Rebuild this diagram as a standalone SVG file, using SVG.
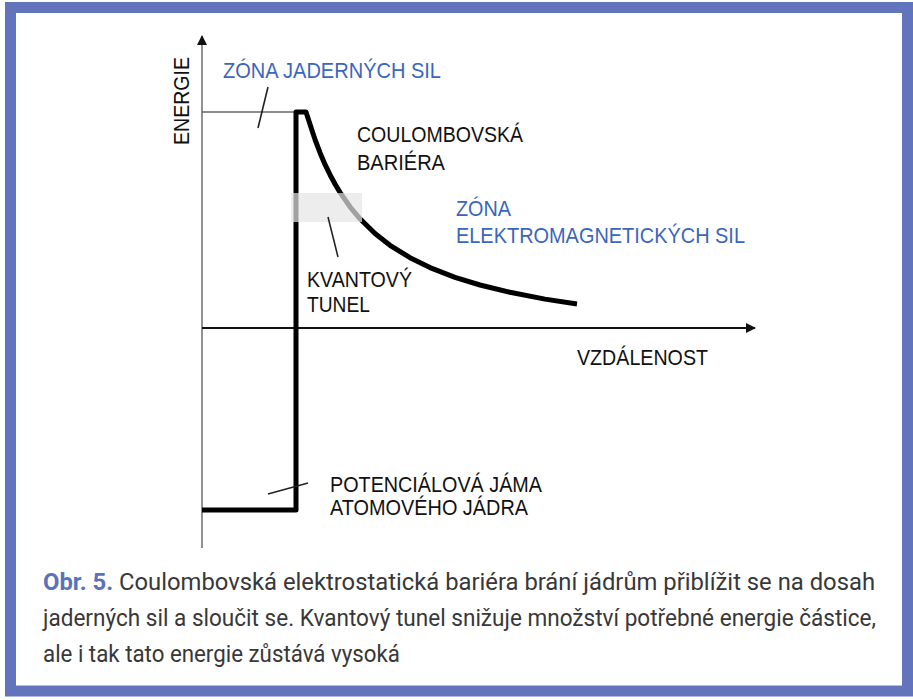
<svg xmlns="http://www.w3.org/2000/svg" width="913" height="700" viewBox="0 0 913 700">
  <defs>
    <style>
      .lbl { font-family: "Liberation Sans", Arial, sans-serif; font-size: 22px; fill: #111; }
      .blue { fill: #3b66bd; }
      .cap { font-family: "Roboto", "Liberation Sans", sans-serif; font-size: 23px; fill: #383838; }
      .capb { font-weight: bold; fill: #5b72b9; }
      .thin { stroke: #222; stroke-width: 1.6; fill: none; }
      .thick { stroke: #000; stroke-width: 5; fill: none; }
    </style>
    <marker id="arr" viewBox="0 0 10 10" refX="9" refY="5" markerWidth="10" markerHeight="10" markerUnits="userSpaceOnUse" orient="auto">
      <path d="M0,0 L10,5 L0,10 z" fill="#111"/>
    </marker>
  </defs>
  <rect x="0" y="0" width="913" height="700" fill="#fff"/>
  <rect x="10.5" y="7.5" width="897" height="683.5" fill="none" stroke="#6174bc" stroke-width="11"/>

  <g id="connectors">
    <line id="y-axis" x1="202" y1="548" x2="202" y2="36" stroke="#777" stroke-width="1.6" marker-end="url(#arr)"/>
    <line id="x-axis" x1="202" y1="328" x2="755" y2="328" stroke="#111" stroke-width="2" marker-end="url(#arr)"/>
    <line id="level" x1="202" y1="112" x2="296" y2="112" stroke="#666" stroke-width="1.5"/>
    <path id="potential" class="thick" stroke-linejoin="round" d="M202,510 L296,510 L296,112 L306,112 L310,124.3 L315,139.5 L320,152.7 L325,164.4 L330,174.7 L335,184 L340,192.4 L350,206.8 L360,218.8 L375,233.5 L390,245.3 L410,257.7 L430,267.6 L455,277.3 L480,285 L510,292.3 L545,299.1 L577,304"/>
    <rect id="tunnel" x="291" y="193" width="71" height="29" fill="#e6e6e6" fill-opacity="0.7"/>
    <line class="thin" x1="268" y1="87" x2="258" y2="128"/>
    <line class="thin" x1="328" y1="217" x2="338" y2="257"/>
    <line class="thin" x1="268" y1="494" x2="308" y2="483"/>
  </g>

  <g id="label-energie"><text class="lbl" transform="translate(189,145) rotate(-90)" textLength="88" lengthAdjust="spacingAndGlyphs">ENERGIE</text></g>
  <g id="label-zona-jadernych"><text class="lbl blue" x="223" y="78" textLength="218" lengthAdjust="spacingAndGlyphs">ZÓNA JADERNÝCH SIL</text></g>
  <g id="label-coulomb">
    <text class="lbl" x="357" y="142" textLength="166" lengthAdjust="spacingAndGlyphs">COULOMBOVSKÁ</text>
    <text class="lbl" x="357" y="170" textLength="88" lengthAdjust="spacingAndGlyphs">BARIÉRA</text>
  </g>
  <g id="label-zona-em">
    <text class="lbl blue" x="456" y="216" textLength="55" lengthAdjust="spacingAndGlyphs">ZÓNA</text>
    <text class="lbl blue" x="456" y="243" textLength="289" lengthAdjust="spacingAndGlyphs">ELEKTROMAGNETICKÝCH SIL</text>
  </g>
  <g id="label-tunel">
    <text class="lbl" x="307" y="287" textLength="105" lengthAdjust="spacingAndGlyphs">KVANTOVÝ</text>
    <text class="lbl" x="307" y="312" textLength="63" lengthAdjust="spacingAndGlyphs">TUNEL</text>
  </g>
  <g id="label-vzdalenost"><text class="lbl" x="577" y="365" textLength="131" lengthAdjust="spacingAndGlyphs">VZDÁLENOST</text></g>
  <g id="label-jama">
    <text class="lbl" x="330" y="492" textLength="212" lengthAdjust="spacingAndGlyphs">POTENCIÁLOVÁ JÁMA</text>
    <text class="lbl" x="330" y="515" textLength="198" lengthAdjust="spacingAndGlyphs">ATOMOVÉHO JÁDRA</text>
  </g>

  <g id="caption">
    <text class="cap" x="43" y="590" textLength="832" lengthAdjust="spacingAndGlyphs"><tspan class="capb">Obr. 5.</tspan> Coulombovská elektrostatická bariéra brání jádrům přiblížit se na dosah</text>
    <text class="cap" x="43" y="626" textLength="833" lengthAdjust="spacingAndGlyphs">jaderných sil a sloučit se. Kvantový tunel snižuje množství potřebné energie částice,</text>
    <text class="cap" x="43" y="662" textLength="357" lengthAdjust="spacingAndGlyphs">ale i tak tato energie zůstává vysoká</text>
  </g>
</svg>
